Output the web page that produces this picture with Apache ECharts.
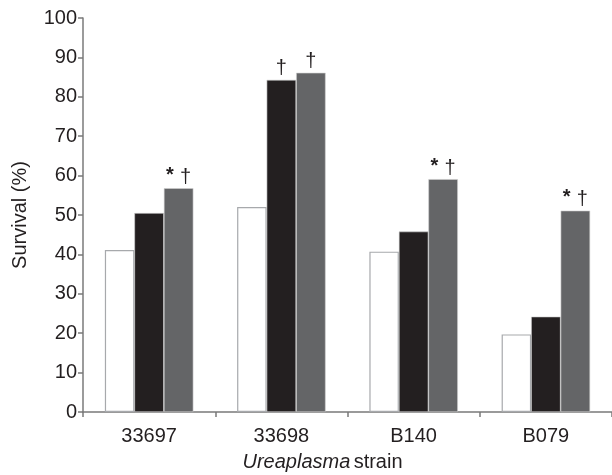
<!DOCTYPE html>
<html>
<head>
<meta charset="utf-8">
<script src="https://cdn.jsdelivr.net/npm/echarts@6/dist/echarts.min.js"></script>
<style>
  html, body { margin: 0; padding: 0; background: #fff; }
  #chart { width: 612px; height: 475px; }
</style>
</head>
<body>
<div id="chart"></div>
<script>
// Survival by Ureaplasma strain, three conditions per strain
const strains = ['33697', '33698', 'B140', 'B079'];
const openBars = [41.1, 52.0, 40.7, 19.7];
const blackBars = [50.5, 84.3, 45.8, 24.2];
const greyBars = [56.8, 86.1, 59.1, 51.1];
// significance marks drawn above the bars
const blackMarks = ['', '{d|†}', '', ''];
const greyMarks = ['{s|*} {d|†}', '{d|†}', '{s|*} {d|†}', '{s|*} {d|†}'];
const yTicks = [0, 10, 20, 30, 40, 50, 60, 70, 80, 90, 100];

const axisGrey = '#7a7a7a';
const ink = '#231f20';
const font = 'Liberation Sans, Arial, sans-serif';

const markLabel = (marks) => ({
  show: true,
  position: 'top',
  distance: 1,
  formatter: (p) => marks[p.dataIndex],
  rich: {
    s: { fontFamily: font, fontSize: 20, fontWeight: 'bold', color: ink, lineHeight: 20, padding: [0, 3, 4, 0] },
    d: { fontFamily: font, fontSize: 20, color: ink, lineHeight: 20 }
  }
});

const chart = echarts.init(document.getElementById('chart'));
chart.setOption({
  animation: false,
  grid: { left: 83, right: 0, top: 18, bottom: 63, containLabel: false, outerBoundsMode: 'none' },
  xAxis: {
    type: 'category',
    data: strains,
    axisLine: { lineStyle: { color: axisGrey, width: 1.5 } },
    axisTick: { show: true, length: 5, lineStyle: { color: axisGrey, width: 1.5 } },
    axisLabel: { color: ink, fontFamily: font, fontSize: 20, margin: 14 },
    name: '{i|Ureaplasma} {n|strain}',
    nameLocation: 'middle',
    nameGap: 40,
    nameTextStyle: {
      padding: [0, 50, 0, 0],
      rich: {
        i: { fontStyle: 'italic', fontFamily: font, fontSize: 20, color: ink },
        n: { fontFamily: font, fontSize: 20, color: ink }
      }
    }
  },
  yAxis: {
    type: 'value',
    min: yTicks[0],
    max: yTicks[yTicks.length - 1],
    interval: 10,
    splitLine: { show: false },
    axisLine: { show: true, lineStyle: { color: axisGrey, width: 1.5 } },
    axisTick: { show: true, length: 5, lineStyle: { color: axisGrey, width: 1.5 } },
    axisLabel: { color: ink, fontFamily: font, fontSize: 20, margin: 6 },
    name: 'Survival (%)',
    nameLocation: 'middle',
    nameRotate: 90,
    nameGap: 53,
    nameTextStyle: { color: ink, fontFamily: font, fontSize: 20 }
  },
  series: [
    {
      type: 'bar',
      data: openBars,
      barWidth: 29.5,
      barGap: '0%',
      itemStyle: { color: '#ffffff', borderColor: '#a7a9ac', borderWidth: 1.2 }
    },
    {
      type: 'bar',
      data: blackBars,
      barWidth: 29.5,
      barGap: '0%',
      itemStyle: { color: ink, borderColor: '#d0d0d0', borderWidth: 0.6 },
      label: markLabel(blackMarks)
    },
    {
      type: 'bar',
      data: greyBars,
      barWidth: 29.5,
      barGap: '0%',
      itemStyle: { color: '#646567', borderColor: '#d0d0d0', borderWidth: 0.6 },
      label: markLabel(greyMarks)
    }
  ]
});
</script>
</body>
</html>
